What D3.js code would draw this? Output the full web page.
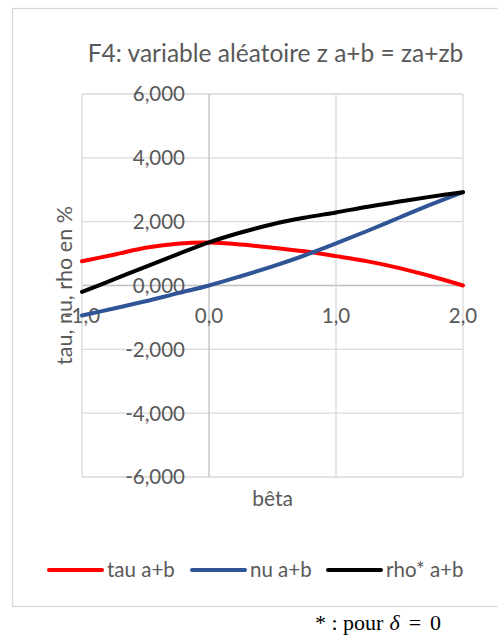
<!DOCTYPE html>
<html>
<head>
<meta charset="utf-8">
<script src="https://cdn.jsdelivr.net/npm/d3@7"></script>
<style>
  html, body { margin: 0; padding: 0; background: #ffffff; }
  svg { display: block; }
  text { font-family: Lato, "Open Sans", sans-serif; fill: #595959; }
  text.serif { font-family: "Liberation Serif", "DejaVu Serif", serif; fill: #000000; }
</style>
</head>
<body>
<svg id="chart" width="498" height="637"></svg>
<script>
// Chart data: beta on the horizontal axis, three curves in percent
const beta = [-1, -0.75, -0.5, -0.25, 0, 0.25, 0.5, 0.75, 1, 1.25, 1.5, 1.75, 2];
const tauAB = [0.76, 0.965, 1.185, 1.31, 1.345, 1.285, 1.185, 1.07, 0.92, 0.755, 0.545, 0.29, 0.0];
const nuAB  = [-0.94, -0.72, -0.495, -0.245, 0.0, 0.29, 0.60, 0.94, 1.32, 1.715, 2.13, 2.54, 2.925];
const rhoAB = [-0.2, 0.19, 0.585, 0.975, 1.35, 1.66, 1.92, 2.12, 2.29, 2.47, 2.63, 2.785, 2.925];

const seriesNames = ["tau a+b", "nu a+b", "rho* a+b"];
const seriesColors = ["#ff0000", "#2f5597", "#000000"];
const seriesValues = [tauAB, nuAB, rhoAB];

const xTicks = [-1, 0, 1, 2];
const yTicks = [-6, -4, -2, 0, 2, 4, 6];

const titleText = "F4: variable aléatoire z a+b = za+zb";
const yTitleText = "tau, nu, rho en %";
const xTitleText = "bêta";

// French number formatting: comma as decimal separator, hyphen minus
const fr = d3.formatLocale({ decimal: ",", thousands: " ", grouping: [3], currency: ["", " €"], minus: "-" });
const fmtY = fr.format(".3f");
const fmtX = fr.format(".1f");

const svg = d3.select("#chart");

// Outer chart frame
svg.append("rect")
  .attr("x", 12.5).attr("y", 8.5).attr("width", 500).attr("height", 598)
  .attr("fill", "#ffffff").attr("stroke", "#d9d9d9").attr("stroke-width", 1.3);

const plot = { left: 82, right: 463, top: 94, bottom: 477 };
const x = d3.scaleLinear().domain([-1, 2]).range([plot.left, plot.right]);
const y = d3.scaleLinear().domain([-6, 6]).range([plot.bottom, plot.top]);

// Gridlines
const grid = svg.append("g");
grid.selectAll("line.h").data(yTicks).join("line")
  .attr("x1", plot.left).attr("x2", plot.right)
  .attr("y1", d => y(d)).attr("y2", d => y(d))
  .attr("stroke", d => d === 0 ? "#bfbfbf" : "#d9d9d9").attr("stroke-width", 1.3);
grid.selectAll("line.v").data(xTicks).join("line")
  .attr("y1", plot.top).attr("y2", plot.bottom)
  .attr("x1", d => x(d)).attr("x2", d => x(d))
  .attr("stroke", d => d === 0 ? "#bfbfbf" : "#d9d9d9").attr("stroke-width", 1.3);

// Y tick labels sit beside the vertical axis (crossing at beta = 0)
svg.append("g").selectAll("text").data(yTicks).join("text")
  .attr("x", x(0) - 24).attr("y", d => y(d))
  .attr("dy", "0.36em")
  .attr("text-anchor", "end")
  .attr("font-size", 20.5)
  .text(d => fmtY(d));

// X tick labels sit below the horizontal axis (crossing at 0)
svg.append("g").selectAll("text").data(xTicks).join("text")
  .attr("x", d => x(d)).attr("y", y(0) + 37)
  .attr("text-anchor", "middle")
  .attr("font-size", 20.5)
  .text(d => fmtX(d));

// Curves
const line = d3.line()
  .x((d, i) => x(beta[i]))
  .y(d => y(d))
  .curve(d3.curveCatmullRom.alpha(0.5));

svg.append("g").selectAll("path").data(seriesValues).join("path")
  .attr("d", d => line(d))
  .attr("fill", "none")
  .attr("stroke", (d, i) => seriesColors[i])
  .attr("stroke-width", 4)
  .attr("stroke-linecap", "round")
  .attr("stroke-linejoin", "round");

// Titles
svg.append("text")
  .attr("x", 275.5).attr("y", 62)
  .attr("text-anchor", "middle")
  .attr("font-size", 24.5)
  .text(titleText);

svg.append("text")
  .attr("transform", `translate(72, ${(plot.top + plot.bottom) / 2}) rotate(-90)`)
  .attr("text-anchor", "middle")
  .attr("font-size", 21.5)
  .text(yTitleText);

svg.append("text")
  .attr("x", (plot.left + plot.right) / 2).attr("y", 506)
  .attr("text-anchor", "middle")
  .attr("font-size", 21)
  .text(xTitleText);

// Legend
const legendY = 570;
const legendItems = [
  { x: 49, name: seriesNames[0], color: seriesColors[0] },
  { x: 192, name: seriesNames[1], color: seriesColors[1] },
  { x: 328, name: seriesNames[2], color: seriesColors[2] }
];
const lg = svg.append("g").selectAll("g").data(legendItems).join("g");
lg.append("line")
  .attr("x1", d => d.x).attr("x2", d => d.x + 53)
  .attr("y1", legendY).attr("y2", legendY)
  .attr("stroke", d => d.color).attr("stroke-width", 4)
  .attr("stroke-linecap", "round");
lg.append("text")
  .attr("x", d => d.x + 58).attr("y", legendY)
  .attr("dy", "0.36em")
  .attr("font-size", 20.5)
  .text(d => d.name);

// Footnote below the frame, with math-style spacing around δ and =
const foot = svg.append("text")
  .attr("class", "serif")
  .attr("x", 315).attr("y", 630)
  .attr("font-size", 22);
foot.append("tspan").text("* : pour");
foot.append("tspan").attr("dx", 6).attr("font-style", "italic").text("δ");
foot.append("tspan").attr("dx", 9).text("=");
foot.append("tspan").attr("dx", 9).text("0");
</script>
</body>
</html>
